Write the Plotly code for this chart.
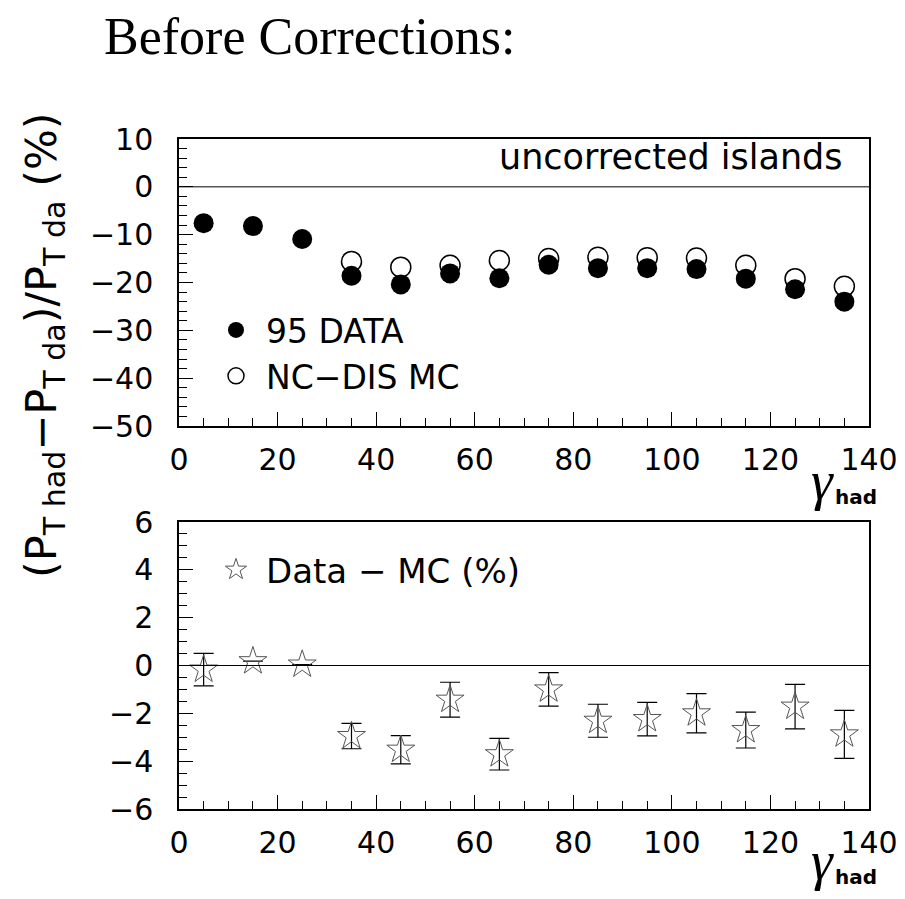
import plotly.graph_objects as go

# ---- data ----
gamma_bins = [5, 15, 25, 35, 45, 55, 65, 75, 85, 95, 105, 115, 125, 135]
data95 = [-7.6, -8.2, -10.9, -18.6, -20.4, -18.1, -19.1, -16.3, -17.0, -17.0, -17.2, -19.2, -21.4, -24.0]
mc_x = [35, 45, 55, 65, 75, 85, 95, 105, 115, 125, 135]
nc_dis_mc = [-15.6, -16.8, -16.4, -15.4, -15.0, -14.7, -14.8, -14.9, -16.4, -19.2, -20.8]
diff = [-0.17, 0.18, 0.04, -2.95, -3.52, -1.43, -3.71, -1.0, -2.31, -2.24, -2.0, -2.7, -1.72, -2.88]
diff_err = [0.68, 0.0, 0.0, 0.53, 0.59, 0.73, 0.66, 0.7, 0.69, 0.7, 0.82, 0.75, 0.93, 1.0]

top_yticks = [10, 0, -10, -20, -30, -40, -50]
bot_yticks = [6, 4, 2, 0, -2, -4, -6]
xticks = [0, 20, 40, 60, 80, 100, 120, 140]

# page has an 8px body margin; figure sized to fit inside the window
OFF = 8
W, H = 896, 888
TICKFONT = dict(family="DejaVu Sans", size=30, color="black")

fig = go.Figure()

fig.add_trace(go.Scatter(
    x=gamma_bins, y=data95, mode="markers", name="95 DATA",
    marker=dict(symbol="circle", size=20, color="black"),
    xaxis="x", yaxis="y", legend="legend"))
fig.add_trace(go.Scatter(
    x=mc_x, y=nc_dis_mc, mode="markers", name="NC\u2212DIS MC",
    marker=dict(symbol="circle-open", size=20, color="black", line=dict(width=1.5)),
    xaxis="x", yaxis="y", legend="legend"))
fig.add_trace(go.Scatter(
    x=gamma_bins, y=diff, mode="markers", name="Data \u2212 MC (%)",
    marker=dict(symbol="star-open", size=21, color="#555", line=dict(width=1)),
    error_y=dict(type="data", array=diff_err, visible=True, color="black", thickness=1.2, width=10),
    xaxis="x2", yaxis="y2", legend="legend2"))

def px_x(p):
    return (p - OFF) / W

def px_y(p):
    return 1 - (p - OFF) / H

xdom = [px_x(179), px_x(869)]
axis_common = dict(
    showline=True, linecolor="black", linewidth=1.5, mirror=True, automargin=False,
    ticks="inside", tickcolor="black", tickwidth=1, showgrid=False, zeroline=False,
    tickfont=TICKFONT, ticklabeloverflow="allow",
)

fig.update_layout(
    width=W, height=H, autosize=False,
    margin=dict(l=0, r=0, t=0, b=0, pad=0, autoexpand=False),
    paper_bgcolor="white", plot_bgcolor="white",
    xaxis=dict(domain=xdom, anchor="y", range=[0, 140], tickvals=xticks, ticklen=14,
               minor=dict(dtick=5, tick0=0, ticks="inside", ticklen=8, tickcolor="black"),
               ticklabelstandoff=6, **axis_common),
    yaxis=dict(domain=[px_y(426), px_y(139)], anchor="x", range=[-50, 10], tickvals=top_yticks,
               ticktext=[str(v).replace("-", "\u2212") for v in top_yticks], ticklen=14,
               minor=dict(dtick=2, tick0=0, ticks="inside", ticklen=8, tickcolor="black"),
               ticklabelstandoff=18, **axis_common),
    xaxis2=dict(domain=xdom, anchor="y2", range=[0, 140], tickvals=xticks, ticklen=14,
                minor=dict(dtick=5, tick0=0, ticks="inside", ticklen=8, tickcolor="black"),
                ticklabelstandoff=6, **axis_common),
    yaxis2=dict(domain=[px_y(809), px_y(522)], anchor="x2", range=[-6, 6], tickvals=bot_yticks,
                ticktext=[str(v).replace("-", "\u2212") for v in bot_yticks], ticklen=14,
                minor=dict(dtick=0.5, tick0=0, ticks="inside", ticklen=8, tickcolor="black"),
                ticklabelstandoff=18, **axis_common),
    legend=dict(x=px_x(206), y=px_y(302), xanchor="left", yanchor="top",
                font=dict(family="DejaVu Sans", size=33, color="black"),
                bgcolor="rgba(0,0,0,0)", itemwidth=50, tracegroupgap=0),
    legend2=dict(x=px_x(206), y=px_y(541), xanchor="left", yanchor="top",
                 font=dict(family="DejaVu Sans", size=34, color="black"),
                 bgcolor="rgba(0,0,0,0)", itemwidth=50),
    showlegend=True,
)

# zero lines
fig.add_shape(type="line", xref="x", yref="y", x0=0, x1=140, y0=0, y1=0, line=dict(color="black", width=1))
fig.add_shape(type="line", xref="x2", yref="y2", x0=0, x1=140, y0=0, y1=0, line=dict(color="black", width=1))

ann = []
ann.append(dict(text="Before Corrections:", x=px_x(102), y=px_y(37), xref="paper", yref="paper",
                xanchor="left", yanchor="middle", showarrow=False,
                font=dict(family="Liberation Serif", size=52, color="black")))
ann.append(dict(text="uncorrected islands", x=px_x(845), y=px_y(157), xref="paper", yref="paper",
                xanchor="right", yanchor="middle", showarrow=False,
                font=dict(family="DejaVu Sans", size=35, color="black")))
ann.append(dict(text="(P<sub>T had</sub>\u2212P<sub>T da</sub>)/P<sub>T da</sub> (%)",
                x=px_x(44), y=px_y(345), xref="paper", yref="paper",
                xanchor="center", yanchor="middle", showarrow=False, textangle=-90,
                font=dict(family="DejaVu Sans", size=43, color="black")))
for gy, hy in ((480, 497), (860, 877)):
    ann.append(dict(text="<i>γ</i>", x=px_x(836), y=px_y(gy), xref="paper", yref="paper",
                    xanchor="right", yanchor="middle", showarrow=False,
                    font=dict(family="Liberation Serif", size=55, color="black")))
    ann.append(dict(text="<b>had</b>", x=px_x(833), y=px_y(hy), xref="paper", yref="paper",
                    xanchor="left", yanchor="middle", showarrow=False,
                    font=dict(family="DejaVu Sans", size=20, color="black")))
fig.update_layout(annotations=ann)

fig.write_html("out.html")
